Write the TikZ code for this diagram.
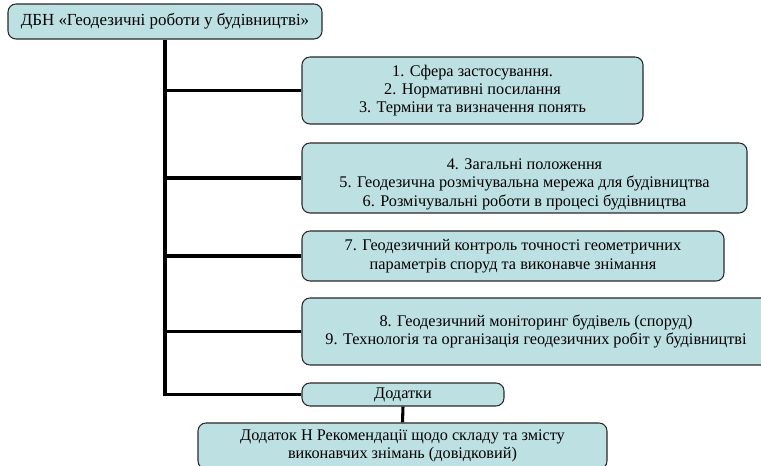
\documentclass[tikz,border=0pt]{standalone}
\usepackage{fontspec}
\setmainfont{Liberation Serif}
\usepackage{xcolor}
\usepackage{tikz}
\usetikzlibrary{positioning,calc}
\definecolor{secfill}{RGB}{189,224,227}
\definecolor{secdraw}{RGB}{40,40,40}

\begin{document}
\begin{tikzpicture}[x=0.75pt,y=-0.75pt,
 sec/.style={draw=secdraw,line width=0.8pt,fill=secfill,rounded corners=6pt,inner sep=0pt,align=center,font=\fontsize{12.2}{13.8}\selectfont},
 txt/.style={inner sep=0pt,align=center,font=\fontsize{12.2}{13.8}\selectfont},
 link/.style={line width=2.3pt,black}]
 \useasboundingbox (0,0) rectangle (761,466);
 % head and sections
 \node[sec,minimum width=314*0.75pt,minimum height=35*0.75pt,font=\fontsize{12.7}{14}\selectfont] (dbn) at (165,21.5) {ДБН «Геодезичні роботи у будівництві»};
 \node[sec,minimum width=341*0.75pt,minimum height=67*0.75pt] (s1) at (472.5,90.5) {1. Сфера застосування.\\ 2. Нормативні посилання\\ 3. Терміни та визначення понять};
 \node[sec,minimum width=445*0.75pt,minimum height=70*0.75pt] (s2) at (524.5,178) {};
 \node[txt] (s2txt) at ($(s2.center)+(0,6)$) {4. Загальні положення\\ 5. Геодезична розмічувальна мережа для будівництва\\ 6. Розмічувальні роботи в процесі будівництва};
 \node[sec,minimum width=422*0.75pt,minimum height=50*0.75pt] (s3) at (513,256) {7. Геодезичний контроль точності геометричних\\ параметрів споруд та виконавче знімання};
 \node[sec,minimum width=468*0.75pt,minimum height=67*0.75pt] (s4) at (536,331.5) {8. Геодезичний моніторинг будівель (споруд)\\ 9. Технологія та організація геодезичних робіт у будівництві};
 % annexes
 \node[sec,minimum width=202*0.75pt,minimum height=23*0.75pt] (dod) at (403,394.5) {Додатки};
 \node[sec,minimum width=409*0.75pt,minimum height=46*0.75pt] (dodn) at (402.5,446) {Додаток Н Рекомендації щодо складу та змісту\\ виконавчих знімань (довідковий)};
 % connectors
 \draw[link] (dbn.south) |- (dod.west);
 \foreach \s in {s1,s2,s3,s4}
  \draw[link] (dbn.south |- \s.west) -- (\s.west);
 \draw[link] (dod.south) -- (dodn.north);
\end{tikzpicture}
\end{document}
